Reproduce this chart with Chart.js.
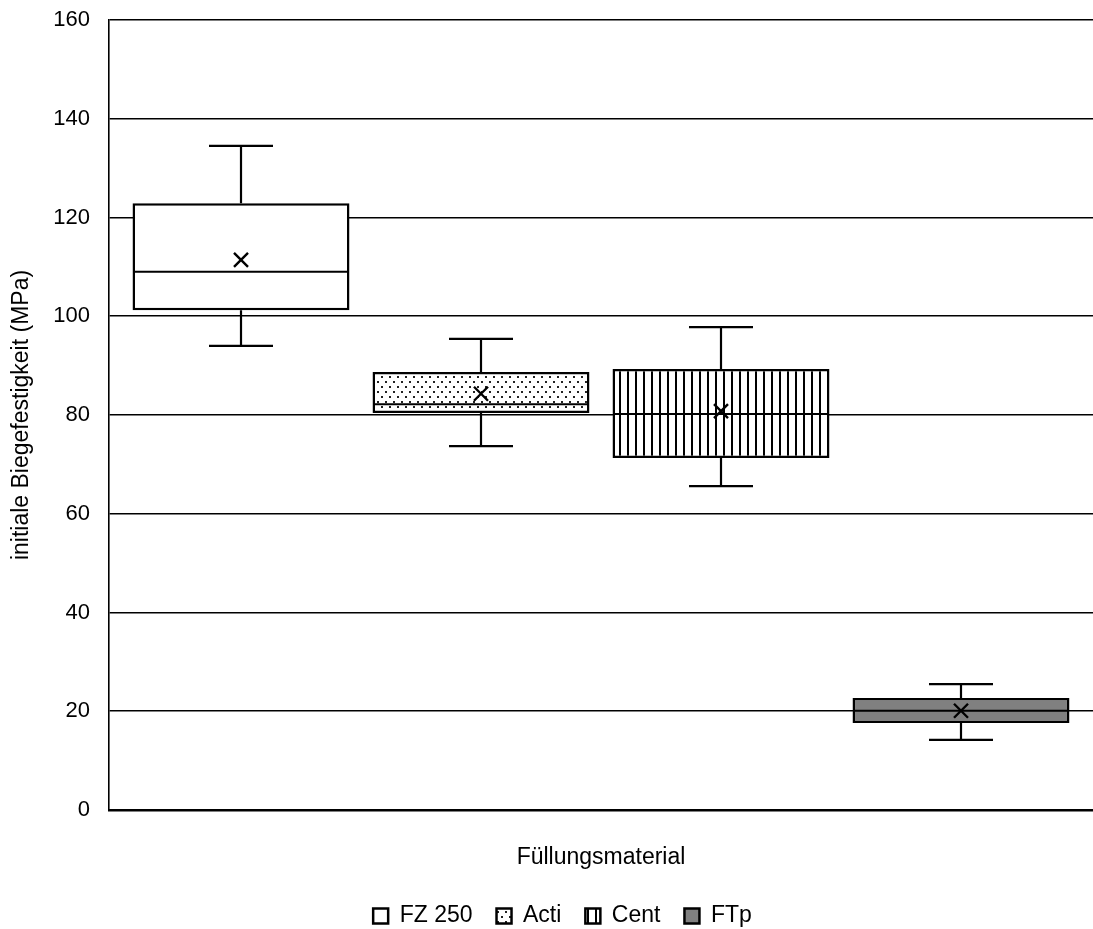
<!DOCTYPE html>
<html>
<head>
<meta charset="utf-8">
<script src="https://cdn.jsdelivr.net/npm/chart.js@4/dist/chart.umd.min.js"></script>
<style>
html,body{margin:0;padding:0;background:#fff;}
#wrap{width:1093px;height:929px;position:relative;}
</style>
</head>
<body>
<div id="wrap"><canvas id="c" width="1093" height="929"></canvas></div>
<script>
// ---- data ----
const categories = ['FZ 250', 'Acti', 'Cent', 'FTp'];
const q1Values = [101.2, 80.4, 71.3, 17.6];
const q3Values = [122.9, 88.7, 89.3, 22.7];
const medianValues = [109.0, 82.2, 80.2, 20.1];
const meanValues = [111.4, 84.3, 80.8, 20.1];
const whiskerLow = [94.0, 73.7, 65.6, 14.2];
const whiskerHigh = [134.5, 95.4, 97.8, 25.5];
const yTicks = [0, 20, 40, 60, 80, 100, 120, 140, 160];

// ---- patterns ----
function dotPattern() {
  const c = document.createElement('canvas');
  c.width = 8; c.height = 10;
  const g = c.getContext('2d');
  g.fillStyle = '#fff'; g.fillRect(0, 0, 8, 10);
  g.fillStyle = '#222';
  g.fillRect(1, 1, 2, 2);
  g.fillRect(5, 6, 2, 2);
  return g.createPattern(c, 'repeat');
}
function vlinePattern() {
  const c = document.createElement('canvas');
  c.width = 8; c.height = 8;
  const g = c.getContext('2d');
  g.fillStyle = '#fff'; g.fillRect(0, 0, 8, 8);
  g.fillStyle = '#000';
  g.fillRect(3, 0, 2, 8);
  return g.createPattern(c, 'repeat');
}
const fills = ['#ffffff', dotPattern(), vlinePattern(), '#808080'];

const datasets = categories.map((name, i) => ({
  label: name,
  data: [[q1Values[i], q3Values[i]]],
  backgroundColor: fills[i],
  borderColor: '#000',
  borderWidth: 2.5,
  borderSkipped: false,
  categoryPercentage: 0.9756,
  barPercentage: 0.904
}));

const boxPlugin = {
  id: 'boxExtras',
  afterLayout(chart) {
    if (chart.legend) { chart.legend.left += 16; chart.legend.right += 16; }
  },
  afterDatasetsDraw(chart) {
    const ctx = chart.ctx;
    const y = chart.scales.y;
    ctx.save();
    ctx.strokeStyle = '#000';
    chart.data.datasets.forEach((ds, i) => {
      const bar = chart.getDatasetMeta(i).data[0];
      if (!bar) return;
      const x = bar.x;
      const half = bar.width / 2;
      const capHalf = 32;
      const pTop = y.getPixelForValue(q3Values[i]);
      const pBot = y.getPixelForValue(q1Values[i]);
      const pHi = y.getPixelForValue(whiskerHigh[i]);
      const pLo = y.getPixelForValue(whiskerLow[i]);
      const pMed = y.getPixelForValue(medianValues[i]);
      const pMean = y.getPixelForValue(meanValues[i]);
      ctx.lineWidth = 2.2;
      ctx.beginPath();
      ctx.moveTo(x, pTop); ctx.lineTo(x, pHi);
      ctx.moveTo(x - capHalf, pHi); ctx.lineTo(x + capHalf, pHi);
      ctx.moveTo(x, pBot); ctx.lineTo(x, pLo);
      ctx.moveTo(x - capHalf, pLo); ctx.lineTo(x + capHalf, pLo);
      ctx.stroke();
      ctx.lineWidth = 2;
      ctx.beginPath();
      ctx.moveTo(x - half + 1, pMed); ctx.lineTo(x + half - 1, pMed);
      ctx.stroke();
      const m = 7;
      ctx.lineWidth = 2.4;
      ctx.beginPath();
      ctx.moveTo(x - m, pMean - m); ctx.lineTo(x + m, pMean + m);
      ctx.moveTo(x - m, pMean + m); ctx.lineTo(x + m, pMean - m);
      ctx.stroke();
    });
    ctx.restore();
  }
};

Chart.defaults.font.family = '"Liberation Sans", Arial, sans-serif';
Chart.defaults.color = '#000';

new Chart(document.getElementById('c'), {
  type: 'bar',
  data: { labels: ['Füllungsmaterial'], datasets },
  plugins: [boxPlugin],
  options: {
    responsive: false,
    animation: false,
    layout: { padding: { top: 0, right: 0, left: 0, bottom: -8.5 } },
    plugins: {
      tooltip: { enabled: false },
      legend: {
        position: 'bottom',
        labels: {
          boxWidth: 15, boxHeight: 15,
          font: { size: 23 },
          color: '#000',
          padding: 24
        }
      }
    },
    scales: {
      x: {
        grid: { display: false, drawTicks: false },
        border: { display: true, color: '#000', width: 2.5 },
        ticks: { display: false },
        title: { display: true, text: 'Füllungsmaterial', font: { size: 23 }, color: '#000', padding: { top: 0, bottom: 8.7 } },
        afterFit(s) { s.height = 70.5; }
      },
      y: {
        min: 0, max: 160,
        afterBuildTicks(s) { s.ticks = yTicks.map(v => ({ value: v })); },
        grid: { color: '#000', lineWidth: 1.6, drawTicks: false },
        border: { display: true, color: '#000', width: 1.6 },
        ticks: { font: { size: 22 }, color: '#000', padding: 19 },
        title: { display: true, text: 'initiale Biegefestigkeit (MPa)', font: { size: 23 }, color: '#000', padding: { top: 8, bottom: 0 } },
        afterFit(s) { s.width = 109; s.paddingTop = 20; }
      }
    }
  }
});
</script>
</body>
</html>
